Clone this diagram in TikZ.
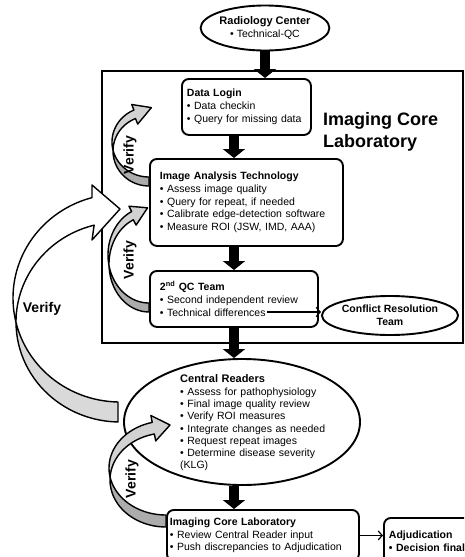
\documentclass[tikz,border=0pt]{standalone}
\usepackage{fontspec}
\setmainfont{Liberation Sans}
\usetikzlibrary{positioning,shapes.geometric,arrows.meta}

\newcommand{\boxfont}{\fontsize{10.5}{12.7}\selectfont}

\begin{document}
\begin{tikzpicture}[
  x=1pt, y=-1pt,
  stagebox/.style={draw, line width=1.9pt, rounded corners=7pt, anchor=north west,
                   align=left, inner ysep=2pt, font=\boxfont},
  oval/.style={draw, ellipse, line width=1.9pt, inner sep=0pt, align=center, font=\boxfont},
  blk/.style={line width=10pt, -{Triangle[width=22pt,length=9pt]}},
  pointer/.style={line width=1.2pt, -{Straight Barb[length=4pt,width=9pt]}},
  frontface/.style={draw, line width=1.4pt, line join=round, fill=gray!35},
  backface/.style={draw, line width=1.4pt, line join=round, fill=gray!65},
  verifylbl/.style={font=\fontsize{14}{16}\selectfont\bfseries, inner sep=0pt}
]
\useasboundingbox (0,0) rectangle (464,557);
\clip (0,0) rectangle (464,557);

% frame of the core lab
\node[draw, line width=2pt, anchor=north west, inner sep=0pt,
      minimum width=361pt, minimum height=272pt] (core) at (101,70) {};
\node[anchor=north west, inner sep=0pt, align=left,
      font=\fontsize{18}{22}\selectfont\bfseries] (coretitle) at (323,112) {Imaging Core\\Laboratory};

% stages
\node[oval, minimum width=108pt, minimum height=45pt] (rc) at (265,28)
  {{\fontsize{11}{13}\selectfont\textbf{Radiology Center}}\\• Technical-QC};
\node[stagebox, inner xsep=5pt, text width=119pt, minimum height=56pt] (dl) at (181,78)
  {\textbf{Data Login}\\• Data checkin\\• Query for missing data};
\node[stagebox, inner xsep=10pt, text width=173pt, minimum height=87pt] (ia) at (149,158)
  {\textbf{Image Analysis Technology}\\• Assess image quality\\• Query for repeat, if needed\\
   • Calibrate edge-detection software\\• Measure ROI (JSW, IMD, AAA)};
\node[stagebox, inner xsep=10pt, text width=148pt, minimum height=56pt] (qc) at (149,270)
  {\textbf{2\textsuperscript{nd} QC Team}\\• Second independent review\\• Technical differences};
\node[oval, minimum width=116pt, minimum height=39pt, font=\boxfont\bfseries] (crt) at (390,315.5)
  {Conflict Resolution\\Team};
\node[oval, minimum width=236pt, minimum height=126pt] (cr) at (242,422) {};
\node[anchor=west, inner sep=0pt, align=left, text width=150pt,
      font=\fontsize{10.5}{12.3}\selectfont] (crtext) at (180,423)
  {{\fontsize{11}{12.3}\selectfont\textbf{Central Readers}}\\• Assess for pathophysiology\\
   • Final image quality review\\• Verify ROI measures\\• Integrate changes as needed\\
   • Request repeat images\\• Determine disease severity\\(KLG)};
\node[stagebox, inner xsep=3pt, text width=186pt, minimum height=51pt] (icl) at (166,509)
  {\textbf{Imaging Core Laboratory}\\• Review Central Reader input\\• Push discrepancies to Adjudication};
\node[stagebox, inner xsep=5pt, text width=90pt, minimum height=46pt] (adj) at (383,517)
  {\textbf{Adjudication}\\\textbf{• Decision final}};

% main flow
\draw[blk] (rc.south) -- (rc.south |- dl.north);
\draw[blk] (dl.south -| qc.north) -- (ia.north -| qc.north);
\draw[blk] (ia.south -| qc.north) -- (qc.north);
\draw[blk] (qc.south) -- (qc.south |- cr.north);
\draw[blk] (qc.south |- cr.south) -- (qc.south |- icl.north);

\coordinate (tdiff) at (267,312);
\draw[pointer] (tdiff) -- (crt.west |- tdiff);
\draw[pointer] (icl.east) -- (icl.east -| adj.west);

% big verify arrow
\filldraw[backface, fill=gray!30]
  plot[variable=\t, domain=166.1:91.07, samples=30] ({120+107*cos(\t)},{298+104*sin(\t)})
  -- plot[variable=\t, domain=91.1:179.4, samples=30] ({120+104*cos(\t)},{322+100*sin(\t)}) -- cycle;
\filldraw[frontface, fill=white]
  plot[variable=\t, domain=254.8:166.1, samples=40] ({120+107*cos(\t)},{298+104*sin(\t)})
  -- plot[variable=\t, domain=179.4:255.6, samples=40] ({120+104*cos(\t)},{322+100*sin(\t)})
  -- (92,240) -- (120,209) -- (92,185) -- cycle;

% small verify arrows
\filldraw[backface]
  plot[variable=\t, domain=166.8:90, samples=25] ({149+37*cos(\t)},{142+35*sin(\t)})
  -- plot[variable=\t, domain=90:181.6, samples=25] ({149+36*cos(\t)},{151+35*sin(\t)}) -- cycle;
\filldraw[frontface]
  plot[variable=\t, domain=246:166.8, samples=25] ({149+37*cos(\t)},{142+35*sin(\t)})
  -- plot[variable=\t, domain=181.6:248, samples=25] ({149+36*cos(\t)},{151+35*sin(\t)})
  -- (137.7,124.1) -- (151.4,107.6) -- (131.7,104.5) -- cycle;

\filldraw[backface]
  plot[variable=\t, domain=167:90, samples=25] ({149+41*cos(\t)},{255+48*sin(\t)})
  -- plot[variable=\t, domain=90:177.85, samples=25] ({149+40*cos(\t)},{264+48*sin(\t)}) -- cycle;
\filldraw[frontface]
  plot[variable=\t, domain=245:167, samples=25] ({149+41*cos(\t)},{255+48*sin(\t)})
  -- plot[variable=\t, domain=177.85:247, samples=25] ({149+40*cos(\t)},{264+48*sin(\t)})
  -- (136.1,225.1) -- (147.6,207.8) -- (128.9,206.2) -- cycle;

\filldraw[backface]
  plot[variable=\t, domain=168.7:90, samples=25] ({166+57*cos(\t)},{468+47*sin(\t)})
  -- plot[variable=\t, domain=90:183.4, samples=25] ({166+56*cos(\t)},{480+47*sin(\t)}) -- cycle;
\filldraw[frontface]
  plot[variable=\t, domain=256:168.7, samples=25] ({166+57*cos(\t)},{468+47*sin(\t)})
  -- plot[variable=\t, domain=183.4:258, samples=25] ({166+56*cos(\t)},{480+47*sin(\t)})
  -- (155.7,440.9) -- (170,425) -- (150.9,415.5) -- cycle;

% labels
\node[verifylbl, rotate=90] (vlab1) at (130,155) {Verify};
\node[verifylbl, rotate=90] (vlab2) at (130,260) {Verify};
\node[verifylbl, rotate=90] (vlab3) at (132,479) {Verify};
\node[verifylbl] (vlab4) at (42,309) {Verify};
\end{tikzpicture}
\end{document}
